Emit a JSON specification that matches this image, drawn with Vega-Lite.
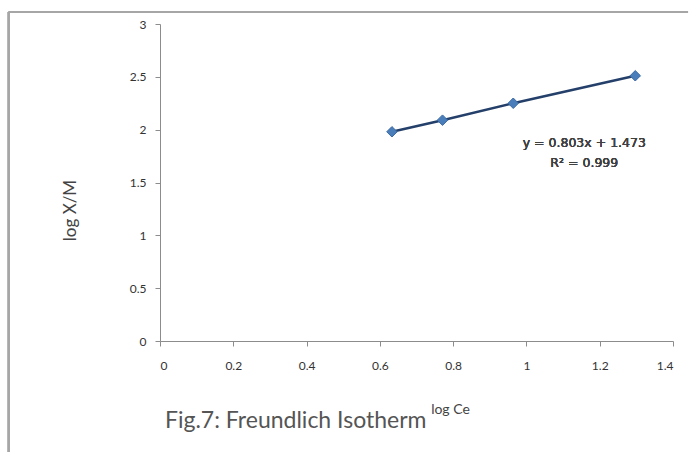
{
  "$schema": "https://vega.github.io/schema/vega-lite/v6.json",
  "autosize": "none",
  "width": 513,
  "height": 317,
  "padding": {"left": 160, "top": 24, "right": 16, "bottom": 111},
  "background": "white",
  "config": {
    "view": {"stroke": null},
    "font": "Lato",
    "axis": {
      "grid": false,
      "domainColor": "#8c8c8c",
      "tickColor": "#8c8c8c",
      "tickSize": 5,
      "labelFont": "Lato",
      "labelFontSize": 12,
      "labelColor": "#333333",
      "titleFont": "Lato",
      "titleFontWeight": "normal",
      "titleColor": "#444444"
    }
  },
  "title": {
    "text": "Fig.7: Freundlich Isotherm",
    "orient": "bottom",
    "anchor": "start",
    "frame": "group",
    "offset": -44,
    "dx": 5,
    "font": "Lato",
    "fontSize": 23,
    "fontWeight": "normal",
    "color": "#555555"
  },
  "data": {
    "values": [
      {"logCe": 0.633, "logXM": 1.98},
      {"logCe": 0.771, "logXM": 2.09},
      {"logCe": 0.964, "logXM": 2.25},
      {"logCe": 1.297, "logXM": 2.51}
    ]
  },
  "layer": [
    {
      "mark": {"type": "rule", "color": "#a6a6a6", "strokeWidth": 2},
      "encoding": {
        "x": {"datum": -0.413, "type": "quantitative"},
        "x2": {"datum": 1.441},
        "y": {"datum": 3.113, "type": "quantitative"}
      }
    },
    {
      "mark": {"type": "rule", "color": "#a6a6a6", "strokeWidth": 2},
      "encoding": {
        "x": {"datum": -0.413, "type": "quantitative"},
        "y": {"datum": 3.113, "type": "quantitative"},
        "y2": {"datum": -1.06}
      }
    },
    {
      "mark": {"type": "line", "color": "#24406a", "strokeWidth": 2.5},
      "encoding": {
        "x": {
          "field": "logCe",
          "type": "quantitative",
          "scale": {"domain": [0, 1.4], "nice": false, "zero": false},
          "axis": {
            "values": [0, 0.2, 0.4, 0.6, 0.8, 1, 1.2, 1.4],
            "format": "~g",
            "labelPadding": 14,
            "title": "log Ce",
            "titleFontSize": 14,
            "titleX": 290,
            "titleY": 68,
            "titleAlign": "center",
            "titleBaseline": "middle"
          }
        },
        "y": {
          "field": "logXM",
          "type": "quantitative",
          "scale": {"domain": [0, 3], "nice": false, "zero": false},
          "axis": {
            "values": [0, 0.5, 1, 1.5, 2, 2.5, 3],
            "format": "~g",
            "labelPadding": 9,
            "title": "log X/M",
            "titleFontSize": 17,
            "titleX": -90,
            "titleY": 186,
            "titleAlign": "center",
            "titleBaseline": "middle"
          }
        }
      }
    },
    {
      "mark": {"type": "point", "shape": "diamond", "filled": true, "size": 110, "color": "#4a7ebb", "opacity": 1, "stroke": "#3c6aa3", "strokeWidth": 1},
      "encoding": {
        "x": {"field": "logCe", "type": "quantitative"},
        "y": {"field": "logXM", "type": "quantitative"}
      }
    },
    {
      "mark": {"type": "text", "font": "DejaVu Sans", "fontSize": 12.5, "fontWeight": "normal", "color": "#404040", "align": "center", "baseline": "middle"},
      "encoding": {
        "x": {"datum": 1.158, "type": "quantitative"},
        "y": {"datum": 1.874, "type": "quantitative"},
        "text": {"value": "y = 0.803x + 1.473"}
      }
    },
    {
      "mark": {"type": "text", "font": "DejaVu Sans", "fontSize": 12.5, "fontWeight": "normal", "color": "#404040", "align": "center", "baseline": "middle"},
      "encoding": {
        "x": {"datum": 1.158, "type": "quantitative"},
        "y": {"datum": 1.684, "type": "quantitative"},
        "text": {"value": "R² = 0.999"}
      }
    }
  ]
}
